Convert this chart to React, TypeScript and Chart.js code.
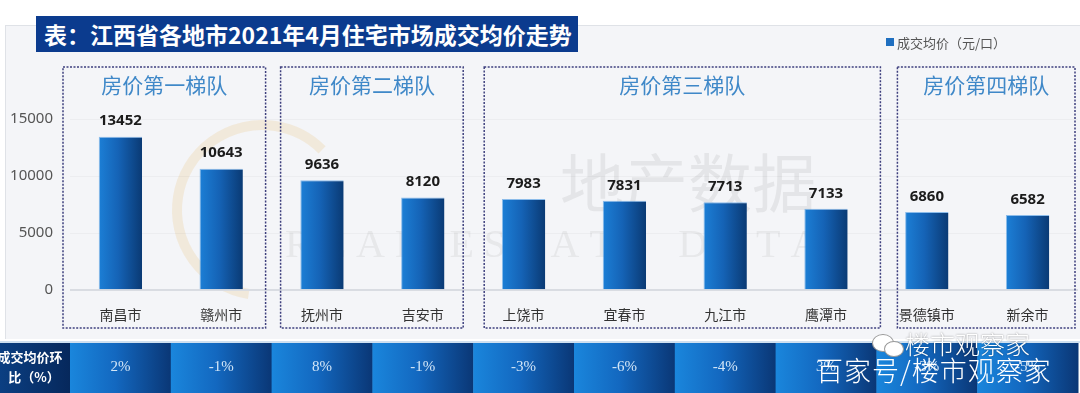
import React, { useEffect, useRef } from 'react';
import { Chart, registerables } from 'chart.js';

Chart.register(...registerables);

const categories = ['南昌市', '赣州市', '抚州市', '吉安市', '上饶市', '宜春市', '九江市', '鹰潭市', '景德镇市', '新余市'];
const prices = [13452, 10643, 9636, 8120, 7983, 7831, 7713, 7133, 6860, 6582];
const momChange = ['2%', '-1%', '8%', '-1%', '-3%', '-6%', '-4%', '3%', '-3%', '-5%'];
const tierNames = ['房价第一梯队', '房价第二梯队', '房价第三梯队', '房价第四梯队'];
const tierStart = [0, 2, 4, 8];
const tierEnd = [1, 3, 7, 9];
const yTickValues = [0, 5000, 10000, 15000];

const chartTitle = '表：江西省各地市2021年4月住宅市场成交均价走势';
const legendLabel = '成交均价（元/口）';
const bandLabelLines = ['成交均价环', '比（%）'];

export default function App() {
  const ref = useRef<HTMLCanvasElement | null>(null);

  useEffect(() => {
    document.body.style.margin = '0';
    const canvas = ref.current;
    if (!canvas) return;

    const boxInsets = [[-7, 6], [9, 10], [11, -4], [21, 3]];

    const decorPlugin = {
      id: 'decor',
      beforeDraw(chart: any) {
        const { ctx } = chart;
        ctx.save();
        ctx.fillStyle = '#ffffff';
        ctx.fillRect(0, 0, chart.width, chart.height);
        ctx.fillStyle = '#f4f5f8';
        ctx.fillRect(5, 25, 1075, 314);
        ctx.strokeStyle = '#dfe2e7';
        ctx.lineWidth = 1;
        ctx.strokeRect(5.5, 25.5, 1075, 314);
        // faint background watermark
        ctx.fillStyle = 'rgba(120,120,120,0.13)';
        ctx.font = '64px "Noto Sans CJK SC"';
        ctx.textBaseline = 'middle';
        ctx.textAlign = 'left';
        ctx.fillText('地产数据', 560, 183);
        ctx.fillStyle = 'rgba(120,120,120,0.10)';
        ctx.font = '40px "Liberation Serif"';
        ctx.fillText('R E A L   E S T A T E   D A T A', 285, 246);
        ctx.strokeStyle = 'rgba(230,190,120,0.22)';
        ctx.lineWidth = 10;
        ctx.beginPath();
        ctx.arc(262, 210, 85, Math.PI * 0.55, Math.PI * 1.75);
        ctx.stroke();
        ctx.restore();
      },
      afterDatasetsDraw(chart: any) {
        const { ctx } = chart;
        const meta = chart.getDatasetMeta(0);
        const xs = chart.scales.x;
        const area = chart.chartArea;
        const catW = (area.right - area.left) / categories.length;
        ctx.save();
        // value labels
        ctx.fillStyle = '#1b1b1b';
        ctx.font = 'bold 15px "Noto Sans"';
        ctx.textAlign = 'center';
        ctx.textBaseline = 'bottom';
        meta.data.forEach((el: any, i: number) => {
          ctx.fillText(String(prices[i]), el.x, el.y - 8);
        });
        // tier boxes
        tierNames.forEach((name, t) => {
          const l = xs.getPixelForValue(tierStart[t]) - catW / 2 + boxInsets[t][0];
          const r = xs.getPixelForValue(tierEnd[t]) + catW / 2 - boxInsets[t][1];
          ctx.setLineDash([2, 1.5]);
          ctx.lineWidth = 1.5;
          ctx.strokeStyle = '#3d3f7d';
          ctx.strokeRect(l, 67, r - l, 261);
          ctx.setLineDash([]);
          ctx.fillStyle = '#3f88c8';
          ctx.font = '21px "Noto Sans CJK SC"';
          ctx.textBaseline = 'middle';
          ctx.fillText(name, (l + r) / 2, 85);
        });
        ctx.restore();
      },
      afterDraw(chart: any) {
        const { ctx } = chart;
        const xs = chart.scales.x;
        const area = chart.chartArea;
        const catW = (area.right - area.left) / categories.length;
        const top = 343;
        const bottom = chart.height;
        ctx.save();
        ctx.fillStyle = '#ffffff';
        ctx.fillRect(0, 339, chart.width, 4);
        ctx.fillStyle = '#cfe0f0';
        ctx.fillRect(0, 341, chart.width, 2);
        // label cell
        const lg = ctx.createLinearGradient(0, 0, area.left, 0);
        lg.addColorStop(0, '#0b3f82');
        lg.addColorStop(1, '#06285c');
        ctx.fillStyle = lg;
        ctx.fillRect(0, top, area.left, bottom - top);
        ctx.fillStyle = '#ffffff';
        ctx.font = 'bold 13px "Noto Sans CJK SC"';
        ctx.textAlign = 'center';
        ctx.textBaseline = 'middle';
        ctx.fillText(bandLabelLines[0], 30, 357);
        ctx.fillText(bandLabelLines[1], 34, 377);
        // cells
        categories.forEach((_, i) => {
          const cx = xs.getPixelForValue(i);
          const l = cx - catW / 2;
          const g = ctx.createLinearGradient(l, 0, l + catW, 0);
          g.addColorStop(0, '#1a86dc');
          g.addColorStop(0.45, '#1368c0');
          g.addColorStop(1, '#0a3776');
          ctx.fillStyle = g;
          ctx.fillRect(l, top, catW + 0.5, bottom - top);
          ctx.fillStyle = '#d3e6f7';
          ctx.font = '15px "Liberation Serif"';
          ctx.fillText(momChange[i], cx, 367);
        });
        ctx.restore();
      },
    };

    const chart = new Chart(canvas, {
      type: 'bar',
      data: {
        labels: categories,
        datasets: [
          {
            label: legendLabel,
            data: prices,
            backgroundColor: (c: any) => {
              const ch = c.chart;
              const xs = ch.scales.x;
              const area = ch.chartArea;
              if (!xs || !area || c.dataIndex === undefined) return '#1565b8';
              const x = xs.getPixelForValue(c.dataIndex);
              const w = ((area.right - area.left) / categories.length) * 0.43;
              const g = ch.ctx.createLinearGradient(x - w / 2, 0, x + w / 2, 0);
              g.addColorStop(0, '#1c7fd6');
              g.addColorStop(0.45, '#1563b6');
              g.addColorStop(1, '#0a3a74');
              return g;
            },
            borderColor: 'rgba(70,150,225,0.6)',
            borderWidth: { left: 1, top: 1, right: 0, bottom: 0 },
            barPercentage: 0.43,
            categoryPercentage: 1,
          },
        ],
      },
      options: {
        responsive: false,
        maintainAspectRatio: false,
        animation: false,
        devicePixelRatio: 1,
        layout: { padding: { top: 119, bottom: 54, left: 0, right: 2 } },
        plugins: {
          legend: { display: false },
          tooltip: { enabled: false },
          title: { display: false },
        },
        scales: {
          x: {
            grid: { display: false, drawTicks: false },
            border: { display: false },
            ticks: {
              color: '#333333',
              font: { family: '"Noto Sans CJK SC"', size: 14 },
              padding: 16,
              maxRotation: 0,
              autoSkip: false,
            },
          },
          y: {
            min: 0,
            max: 15000,
            afterFit: (s: any) => {
              s.width = 70;
            },
            afterBuildTicks: (s: any) => {
              s.ticks = yTickValues.map((v) => ({ value: v }));
            },
            grid: {
              drawTicks: false,
              color: (c: any) => (c.tick && c.tick.value === 0 ? '#d9dce2' : 'rgba(0,0,0,0.03)'),
              lineWidth: (c: any) => (c.tick && c.tick.value === 0 ? 2 : 1),
            },
            border: { display: false },
            ticks: {
              color: '#555555',
              font: { family: '"Noto Sans"', size: 15 },
              padding: 17,
              callback: (v: any) => String(v),
            },
          },
        },
      },
      plugins: [decorPlugin],
    });

    return () => chart.destroy();
  }, []);

  return (
    <div style={{ position: 'fixed', left: 0, top: 0, width: 1080, height: 393, overflow: 'hidden', background: '#fff' }}>
      <canvas ref={ref} width={1080} height={393} style={{ position: 'absolute', left: 0, top: 0, width: 1080, height: 393 }} />
      <div
        style={{
          position: 'absolute',
          left: 36,
          top: 16,
          width: 542,
          height: 36,
          background: '#0b3b8e',
          color: '#ffffff',
          fontFamily: '"Noto Sans CJK SC"',
          fontWeight: 700,
          fontSize: 23,
          lineHeight: '36px',
          paddingLeft: 8,
          boxSizing: 'border-box',
          whiteSpace: 'nowrap',
          overflow: 'hidden',
        }}
      >
        {chartTitle}
      </div>
      <div
        style={{
          position: 'absolute',
          left: 886,
          top: 33,
          height: 18,
          display: 'flex',
          alignItems: 'center',
          fontFamily: '"Noto Sans CJK SC"',
          fontSize: 13,
          color: '#555555',
          whiteSpace: 'nowrap',
        }}
      >
        <span style={{ display: 'inline-block', width: 8, height: 8, background: '#1f6fc0', marginRight: 3 }} />
        {legendLabel}
      </div>
      <div
        style={{
          position: 'absolute',
          left: 905,
          top: 328,
          fontFamily: '"Noto Sans CJK SC"',
          fontSize: 25,
          fontWeight: 300,
          color: '#ffffff',
          textShadow: '0 0 2px rgba(0,0,0,0.45)',
          whiteSpace: 'nowrap',
          lineHeight: '30px',
        }}
      >
        楼市观察家
      </div>
      <div
        style={{
          position: 'absolute',
          left: 872,
          top: 334,
          width: 20,
          height: 16,
          borderRadius: '50%',
          background: '#ffffff',
          border: '1px solid #999',
        }}
      />
      <div
        style={{
          position: 'absolute',
          left: 884,
          top: 341,
          width: 18,
          height: 14,
          borderRadius: '50%',
          background: '#ffffff',
          border: '1px solid #999',
        }}
      />
      <div
        style={{
          position: 'absolute',
          left: 816,
          top: 352,
          fontFamily: '"Noto Sans CJK SC"',
          fontSize: 27,
          fontWeight: 300,
          color: '#ffffff',
          whiteSpace: 'nowrap',
          lineHeight: '36px',
          letterSpacing: 1,
        }}
      >
        百家号/楼市观察家
      </div>
    </div>
  );
}
